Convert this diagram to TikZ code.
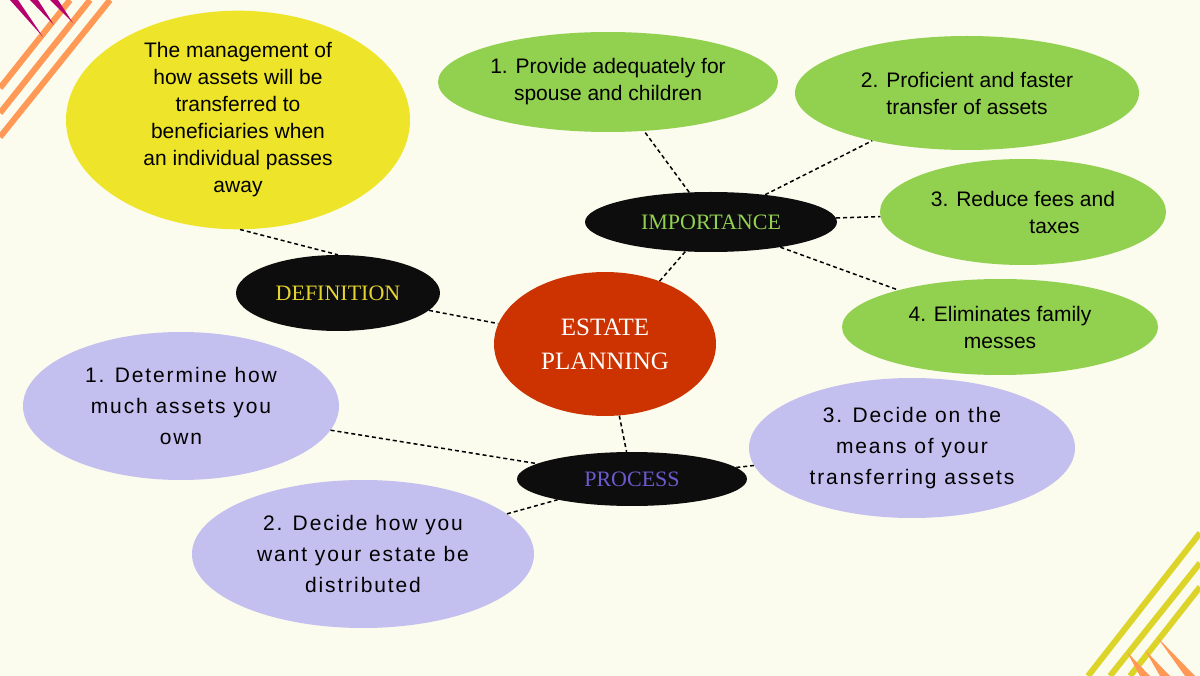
\documentclass[tikz,border=0pt]{standalone}
\usepackage{fontspec}
\setmainfont{Liberation Sans}
\newfontfamily\serifx{Liberation Serif}
\newfontfamily\spaced[LetterSpace=9]{Liberation Sans}
\usetikzlibrary{shapes.geometric}
\definecolor{bg}{HTML}{FBFBEE}
\definecolor{yel}{HTML}{EEE52B}
\definecolor{grn}{HTML}{92D050}
\definecolor{lav}{HTML}{C3BFEF}
\definecolor{rd}{HTML}{CC3300}
\definecolor{org}{HTML}{FF9955}
\definecolor{mag}{HTML}{B5006E}
\definecolor{ylw}{HTML}{DDD42A}
\definecolor{deftxt}{HTML}{E5D430}
\definecolor{proctxt}{HTML}{6B5ACD}
\tikzset{
 ell/.style={ellipse,inner sep=0pt,align=center,font=\fontsize{21}{27}\selectfont},
 blk/.style={ellipse,fill=black!95,inner sep=0pt,font=\serifx\fontsize{22}{26}\selectfont},
 conn/.style={dashed,line width=1.5pt,dash pattern=on 4pt off 3pt},
 stripe/.style={line width=6pt}
}
\begin{document}
\begin{tikzpicture}[x=1pt,y=-1pt]
\fill[bg] (0,0) rectangle (1200,676);
\useasboundingbox (0,0) rectangle (1200,676);
% corners
\draw[stripe,org] (0,88)--(70,0) (0,113)--(90,0) (0,137)--(110,0);
\fill[mag] (10,0)--(18,0)--(43,37)--cycle (30,0)--(38,0)--(54,25)--cycle (50,0)--(58,0)--(73,23)--cycle;
\draw[stripe,ylw] (1088,676)--(1200,533) (1110,676)--(1200,563) (1130,676)--(1200,587);
\fill[org] (1127,652)--(1140,676)--(1150,676)--cycle (1145,650)--(1160,676)--(1170,676)--cycle (1157,637)--(1185,676)--(1195,676)--cycle;
% nodes
\node[ell,fill=yel,minimum width=344,minimum height=206] (def) at (238,120) {The management of\\how assets will be\\transferred to\\beneficiaries when\\an individual passes\\away};
\node[ell,fill=grn,minimum width=340,minimum height=100] (i1) at (608,82) {1. Provide adequately for\\spouse and children};
\node[ell,fill=grn,minimum width=344,minimum height=114] (i2) at (967,93) {2. Proficient and faster\\transfer of assets};
\node[ell,fill=grn,minimum width=286,minimum height=106] (i3) at (1023,212) {3. Reduce fees and\\\hspace*{3em}taxes};
\node[ell,fill=grn,minimum width=316,minimum height=96] (i4) at (1000,327) {4. Eliminates family\\messes};
\node[blk,minimum width=252,minimum height=60,text=grn] (imp) at (711,222) {IMPORTANCE};
\node[blk,minimum width=204,minimum height=76,text=deftxt] (dfn) at (338,293) {DEFINITION};
\node[ell,fill=rd,minimum width=222,minimum height=144,text=white,font=\serifx\fontsize{25}{34}\selectfont] (ep) at (605,344) {ESTATE\\PLANNING};
\node[blk,minimum width=230,minimum height=54,text=proctxt] (proc) at (632,479) {PROCESS};
\node[ell,fill=lav,minimum width=316,minimum height=148,font=\spaced\fontsize{21}{31}\selectfont] (p1) at (181,406) {1. Determine how\\much assets you\\own};
\node[ell,fill=lav,minimum width=342,minimum height=148,font=\spaced\fontsize{21}{31}\selectfont] (p2) at (363,554) {2. Decide how you\\want your estate be\\distributed};
\node[ell,fill=lav,minimum width=326,minimum height=140,font=\spaced\fontsize{21}{31}\selectfont] (p3) at (912,448) {3. Decide on the\\means of your\\transferring assets};
% connectors
\draw[conn] (def.south) ++(2,0) coordinate (a1) (a1) -- (dfn.north) ;
\draw[conn] (dfn) -- (ep);
\draw[conn] (ep) -- (imp);
\draw[conn] (imp) -- (i1);
\draw[conn] (imp) -- (i2);
\draw[conn] (imp) -- (i3);
\draw[conn] (imp) -- (i4);
\draw[conn] (ep) -- (proc);
\draw[conn] (p1) -- (proc);
\draw[conn] (p2) -- (proc);
\draw[conn] (proc) -- (p3);
\end{tikzpicture}
\end{document}
